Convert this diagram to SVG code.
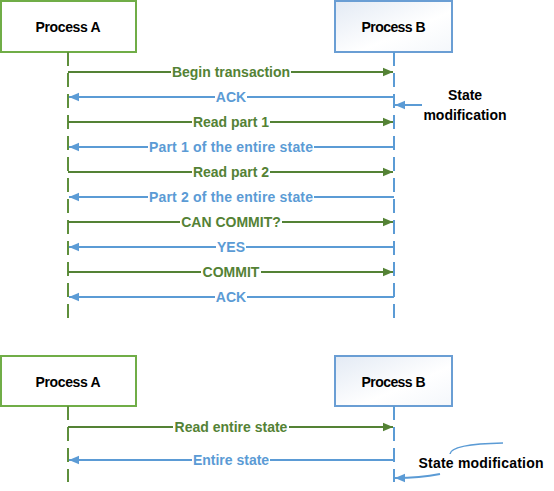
<svg xmlns="http://www.w3.org/2000/svg" width="554" height="491" viewBox="0 0 554 491">
  <defs>
    <linearGradient id="gB" x1="0" y1="0" x2="1" y2="1">
      <stop offset="0" stop-color="#E3EAF4"/>
      <stop offset="0.6" stop-color="#FFFFFF"/>
      <stop offset="1" stop-color="#F4F7FB"/>
    </linearGradient>
    <marker id="ag" markerUnits="userSpaceOnUse" markerWidth="10" markerHeight="10" viewBox="0 0 10 10" refX="10" refY="5" orient="auto">
      <path d="M0,0.8 L10,5 L0,9.2 Z" fill="#548235"/>
    </marker>
    <marker id="ab" markerUnits="userSpaceOnUse" markerWidth="10" markerHeight="10" viewBox="0 0 10 10" refX="10" refY="5" orient="auto">
      <path d="M0,0.8 L10,5 L0,9.2 Z" fill="#5B9BD5"/>
    </marker>
  </defs>
  <style>
    .boxA { fill: #FFFFFF; stroke: #70AD47; stroke-width: 2; }
    .boxB { fill: url(#gB); stroke: #6A9ED4; stroke-width: 2; }
    .title { font-family: "Liberation Sans", Arial, sans-serif; font-weight: bold; font-size: 14px; fill: #000; text-anchor: middle; }
    .note { font-family: "Liberation Sans", Arial, sans-serif; font-weight: bold; font-size: 14px; fill: #000; text-anchor: middle; }
    .lifeA { stroke: #5E8F3C; stroke-width: 2; stroke-dasharray: 14 7; fill: none; }
    .lifeB { stroke: #5B9BD5; stroke-width: 2; stroke-dasharray: 14 7; fill: none; }
    .mg { stroke: #548235; stroke-width: 2; fill: none; marker-end: url(#ag); }
    .mb { stroke: #5B9BD5; stroke-width: 2; fill: none; marker-end: url(#ab); }
    .lg { font-family: "Liberation Sans", Arial, sans-serif; font-weight: bold; font-size: 14px; fill: #548235; text-anchor: middle; }
    .lb { font-family: "Liberation Sans", Arial, sans-serif; font-weight: bold; font-size: 14px; fill: #5B9BD5; text-anchor: middle; }
    .bg { fill: #FFFFFF; }
    .curve { stroke: #5B9BD5; stroke-width: 1.5; fill: none; }
  </style>

  <!-- Top diagram nodes -->
  <g id="processA-top">
    <rect class="boxA" x="1" y="1" width="135" height="51"/>
    <text class="title" x="68" y="32" textLength="65">Process A</text>
  </g>
  <g id="processB-top">
    <rect class="boxB" x="335" y="1" width="117" height="51"/>
    <text class="title" x="393.5" y="32" textLength="64">Process B</text>
  </g>
  <g id="note-top">
    <text class="note" x="465" y="100">State</text>
    <text class="note" x="465" y="120">modification</text>
  </g>

  <!-- Bottom diagram nodes -->
  <g id="processA-bottom">
    <rect class="boxA" x="1" y="356" width="135" height="50"/>
    <text class="title" x="68" y="387" textLength="65">Process A</text>
  </g>
  <g id="processB-bottom">
    <rect class="boxB" x="335" y="356" width="117" height="50"/>
    <text class="title" x="393.5" y="387" textLength="64">Process B</text>
  </g>
  <g id="note-bottom">
    <text class="note" x="481" y="468" textLength="125">State modification</text>
  </g>

  <!-- Connectors -->
  <g id="connectors">
    <!-- lifelines -->
    <line class="lifeA" x1="68" y1="52" x2="68" y2="320"/>
    <line class="lifeB" x1="394" y1="52" x2="394" y2="320"/>
    <line class="lifeA" x1="68" y1="406" x2="68" y2="482"/>
    <line class="lifeB" x1="394" y1="406" x2="394" y2="482"/>

    <!-- top messages -->
    <path class="mg" d="M68,72 H393"/>
    <path class="mb" d="M394,97 H69"/>
    <path class="mg" d="M68,122 H393"/>
    <path class="mb" d="M394,147 H69"/>
    <path class="mg" d="M68,172 H393"/>
    <path class="mb" d="M394,197 H69"/>
    <path class="mg" d="M68,222 H393"/>
    <path class="mb" d="M394,247 H69"/>
    <path class="mg" d="M68,272 H393"/>
    <path class="mb" d="M394,297 H69"/>

    <!-- state modification arrow top -->
    <path class="mb" d="M422,105 H395"/>

    <!-- bottom messages -->
    <path class="mg" d="M68,427 H393"/>
    <path class="mb" d="M394,460 H69"/>

    <!-- bottom callouts -->
    <path class="curve" d="M450,454 Q451,444 503,443"/>
    <path class="mb" d="M440,474 Q420,478 395,478"/>

    <!-- label backgrounds -->
    <rect class="bg" x="171" y="64" width="120" height="16"/>
    <rect class="bg" x="215" y="89" width="32" height="16"/>
    <rect class="bg" x="192" y="114" width="78" height="16"/>
    <rect class="bg" x="148" y="139" width="166" height="16"/>
    <rect class="bg" x="192" y="164" width="78" height="16"/>
    <rect class="bg" x="148" y="189" width="166" height="16"/>
    <rect class="bg" x="180" y="214" width="102" height="16"/>
    <rect class="bg" x="216" y="239" width="30" height="16"/>
    <rect class="bg" x="201" y="264" width="60" height="16"/>
    <rect class="bg" x="215" y="289" width="32" height="16"/>
    <rect class="bg" x="173" y="419" width="116" height="16"/>
    <rect class="bg" x="192" y="452" width="78" height="16"/>

    <!-- labels -->
    <text class="lg" x="231" y="77">Begin transaction</text>
    <text class="lb" x="231" y="102">ACK</text>
    <text class="lg" x="231" y="127">Read part 1</text>
    <text class="lb" x="231" y="152" textLength="164">Part 1 of the entire state</text>
    <text class="lg" x="231" y="177">Read part 2</text>
    <text class="lb" x="231" y="202" textLength="164">Part 2 of the entire state</text>
    <text class="lg" x="231" y="227">CAN COMMIT?</text>
    <text class="lb" x="231" y="252">YES</text>
    <text class="lg" x="231" y="277">COMMIT</text>
    <text class="lb" x="231" y="302">ACK</text>
    <text class="lg" x="231" y="432">Read entire state</text>
    <text class="lb" x="231" y="465">Entire state</text>
  </g>
</svg>
